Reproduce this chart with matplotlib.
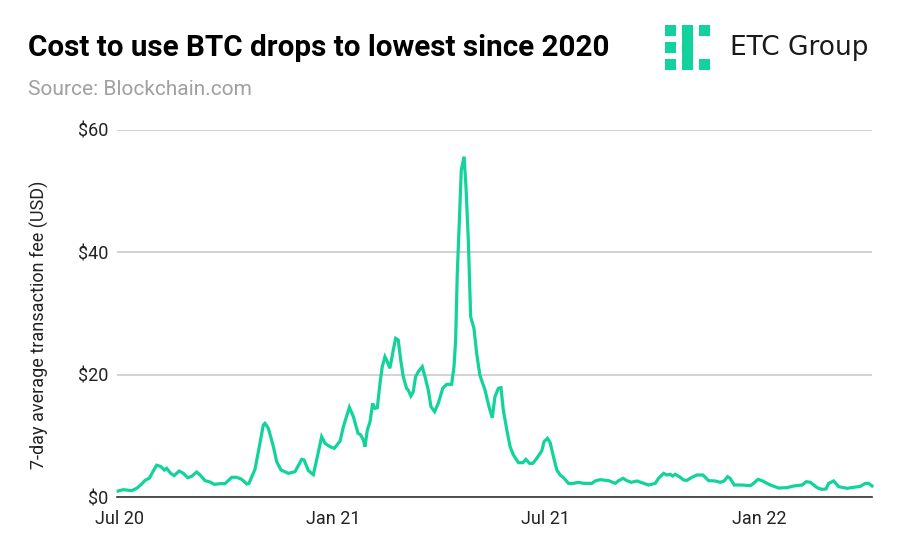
import matplotlib
matplotlib.use('Agg')
import matplotlib.pyplot as plt
from matplotlib.patches import Rectangle
import pandas as pd

W, H = 900, 557
GREEN = '#12d39b'

plt.rcParams['font.family'] = ['Roboto', 'DejaVu Sans']

# days since 1 Jul 2020
days = [1, 5.4, 12.5, 16.8, 21, 23.9, 27.6, 31, 33.8, 37.5, 40.3, 42.3, 45.7, 48.6, 53, 56.5, 60.2, 63.6, 67.9, 70.7,
        75, 79.2, 82.9, 87.7, 92, 97.7, 102, 106.2, 110.5, 112.4, 117.5, 121.2, 124.6, 126, 128.9, 133.2, 136, 139.7,
        145.9, 151.6, 157.3, 159.3, 163, 167.2, 170, 174.3, 177.2, 181.4, 185.1, 190, 192.8, 197.9, 201.3,
        205.3, 207.6, 209.8, 211.2, 213.2, 215.5, 217.7, 219.7, 221.7, 224, 225.9, 228.2, 229.6, 232.4, 235.3, 237.3,
        239.5, 241.8, 243.8, 246.6, 248, 250.3, 252.3, 254.3, 256.6, 260, 262.3, 265.1, 267.4, 270.5, 273.6, 277.4,
        280.8, 285, 287, 288.4, 289.8, 291.5, 293.2, 295.6, 297.2, 299.2, 301.2, 304, 306.3, 309, 313.4, 316.8, 319.6,
        321.9, 324.8, 327, 329, 332, 334.8, 337.6, 341.9, 345.6, 348.2, 351.3, 354.1, 357.5,
        361.8, 363.7, 366.6, 368.9, 371.7, 374.6, 377.4, 380.8, 384.5, 388.8, 393, 397.3, 404.4, 407.3, 411.5, 418.7,
        424.4, 427.2, 431, 434.3, 438, 442.8, 447.1, 452.7, 458.4, 461.2, 465.5, 468.3, 471.2, 473.2, 475.4, 479.7,
        482.5, 485.4, 489.6, 493.9, 499, 503.8, 509.5, 513.7, 517.1, 520, 522.2, 525.7, 532.2, 539.3, 542.1, 545.9,
        549.3, 556.4, 563.5, 570.6, 576.3, 583.4, 587.1, 590.5, 596.2, 600.4, 603.8, 606.1, 610.3, 614.6, 621.7, 633,
        637.3, 640.1, 643]
fees = [0.98, 1.2, 1.04, 1.42, 2.13, 2.72, 3.1, 4.3, 5.2, 4.96, 4.41, 4.69, 3.87, 3.49, 4.25, 3.87, 3.16, 3.38, 4.09, 3.6,
        2.67, 2.45, 2.07, 2.18, 2.18, 3.22, 3.22, 2.89, 2.13, 2.23, 4.52, 8.23, 11.77, 12.04, 11.23, 8.23, 5.78, 4.41,
        3.87, 4.14, 6.16, 6.05, 4.31, 3.65, 6.05, 9.86, 8.77, 8.23, 7.96, 9.16, 11.5, 14.66, 13.13,
        10.41, 10.14, 9.32, 8.23, 10.95, 12.3, 15.3, 14.5, 14.6, 18.6, 21.3, 22.94, 22.4, 21.04, 24.03, 25.94,
        25.67, 22.13, 19.67, 17.77, 17.49, 16.51, 17.22, 19.67, 20.49, 21.31, 19.67, 17.49, 14.77, 13.95, 15.31, 17.77,
        18.42, 18.42, 21.31, 25.67, 36.57, 44.74, 53.46, 55.64, 50.74, 42.0, 29.48, 27.57, 23.49, 19.95, 17.49, 14.77, 12.97,
        16.4, 17.77, 17.87, 14.22, 10.95, 8.23, 6.87, 5.61, 5.61, 6.16, 5.5, 5.5, 6.32,
        7.57, 9.05, 9.59, 8.88, 6.59, 4.41, 3.6, 3.05, 2.23, 2.23, 2.4, 2.23, 2.23, 2.62, 2.83, 2.67,
        2.23, 2.67, 3.05, 2.67, 2.4, 2.62, 2.34, 1.96, 2.23, 3.05, 3.87, 3.6, 3.71, 3.43, 3.71, 3.22,
        2.78, 2.72, 3.22, 3.6, 3.6, 2.67, 2.62, 2.4, 2.62, 3.32, 3.05, 1.96, 1.96, 1.85, 2.23, 2.89,
        2.67, 1.96, 1.47, 1.53, 1.8, 1.96, 2.5, 2.4, 1.53, 1.25, 1.31, 2.23, 2.62, 1.69, 1.42, 1.74,
        2.23, 2.23, 1.8]
start = pd.Timestamp('2020-07-01')
end = pd.Timestamp('2022-04-05')
dates = start + pd.to_timedelta(days, unit='D')

y_ticks = [0, 20, 40, 60]
y_labels = ['$0', '$20', '$40', '$60']
# first and last labels sit a little off the month start in the reference
x_ticks = pd.to_datetime(['2020-07-03', '2021-01-01', '2021-07-01', '2021-12-30'])
x_labels = ['Jul 20', 'Jan 21', 'Jul 21', 'Jan 22']

fig = plt.figure(figsize=(W / 100, H / 100), dpi=100)
ax = fig.add_axes([117 / W, 1 - 497 / H, (872 - 117) / W, (497 - 130) / H])
ax.plot(dates, fees, color=GREEN, lw=2.3, solid_joinstyle='miter', clip_on=False, zorder=3)
ax.set_xlim(start, end)
ax.set_ylim(0, 60)
ax.set_yticks(y_ticks, y_labels)
ax.set_xticks(x_ticks, x_labels)
ax.tick_params(length=0, labelsize=13, labelcolor='#222222')
ax.tick_params(axis='y', pad=6)
ax.tick_params(axis='x', pad=9)
ax.grid(axis='y', color='#d2d2d2', lw=1.4)
ax.set_axisbelow(True)
for s in ['top', 'left', 'right']:
    ax.spines[s].set_visible(False)
ax.spines['bottom'].set_color('#333333')
ax.spines['bottom'].set_linewidth(1.2)
ax.spines['bottom'].set_zorder(2)
ax.set_ylabel('7-day average transaction fee (USD)', fontsize=13, color='#222222')
ax.yaxis.set_label_coords((49 - 117) / (872 - 117), (497 - 325) / (497 - 130))

fig.text(28 / W, 1 - 56 / H, 'Cost to use BTC drops to lowest since 2020', fontsize=21.3, fontweight='bold',
         color='#000000', va='baseline')
fig.text(28 / W, 1 - 95 / H, 'Source: Blockchain.com', fontsize=15, color='#a0a0a0', va='baseline')

# logo
for x0, y0, w, h in [(665, 25, 11, 11), (665, 42, 11, 11), (665, 59, 11, 11), (682, 25, 11, 45),
                     (699, 25, 11, 11), (699, 59, 11, 11)]:
    fig.add_artist(Rectangle((x0 / W, 1 - (y0 + h) / H), w / W, h / H, transform=fig.transFigure,
                             color=GREEN, lw=0))
fig.text(799 / W, 1 - 55 / H, 'ETC Group', fontsize=19, color='#1a1a1a', va='baseline', ha='center',
         family='DejaVu Sans')

fig.savefig('out.png', dpi=100)
